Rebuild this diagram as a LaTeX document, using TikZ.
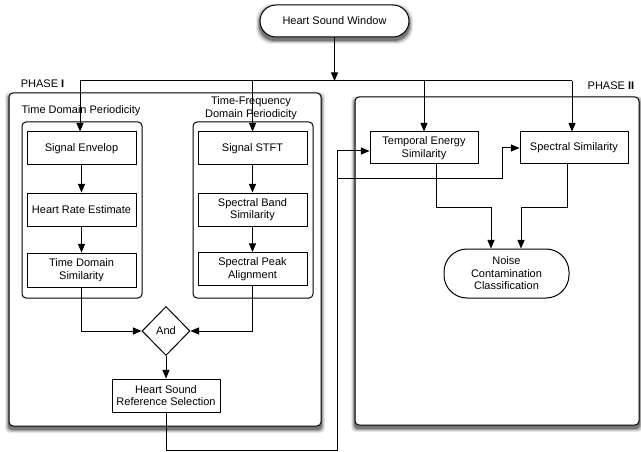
\documentclass[tikz,border=0pt]{standalone}
\usepackage{fontspec}
\setmainfont{Liberation Sans}
\usetikzlibrary{arrows, shapes}

% soft shadow below a rounded box: corners (#1,#2), (#3,#4), radius #5
\newcommand{\softshadow}[5]{%
  \foreach \s/\o in {4/0.08, 3/0.12, 2/0.18, 1/0.3}
    \fill [black, opacity=\o, rounded corners=#5]
      (#1-\s, #2+3-\s) rectangle (#3+\s, #4+3+\s);}

\begin{document}
\begin{tikzpicture}[x=1pt, y=-1pt, line width=1pt,
  stepbox/.style={draw, rectangle, fill=white, align=center, inner sep=1pt,
    minimum width=109pt, minimum height=33pt},
  pill/.style={draw, rectangle, rounded corners=16pt, fill=white, align=center},
  phasebox/.style={draw, rounded corners=4pt, fill=white},
  groupbox/.style={draw, rounded corners=4pt},
  every node/.append style={font=\fontsize{11}{12.5}\selectfont}]
  \useasboundingbox (0, 0) rectangle (641, 452);

  % phase containers
  \softshadow{9}{93}{321}{426}{4pt}
  \softshadow{355}{97}{639}{425}{4pt}
  \draw [phasebox] (9, 93) rectangle (321, 426);
  \draw [phasebox] (355, 97) rectangle (639, 425);
  \node [anchor=base west] (phaseI) at (17, 88) {PHASE \textbf{I}};
  \node [anchor=base east] (phaseII) at (638, 90) {PHASE \textbf{II}};

  % periodicity groups
  \draw [groupbox] (22, 122) rectangle (142, 298);
  \draw [groupbox] (193, 122) rectangle (313, 298);
  \node (tdlabel) at (81, 111) {Time Domain Periodicity};
  \node [align=center] (tflabel) at (251, 108) {Time-Frequency\\Domain Periodicity};

  % nodes
  \softshadow{260}{5}{409}{37}{16pt}
  \node [pill, minimum width=149pt, minimum height=32pt] (window) at (334.5, 21) {Heart Sound Window};
  \node [stepbox] (envelop) at (81.5, 148.5) {Signal Envelop};
  \node [stepbox] (rate) at (81.5, 209.5) {Heart Rate Estimate};
  \node [stepbox, minimum height=34pt] (tdsim) at (81.5, 270) {Time Domain\\Similarity};
  \node [stepbox] (stft) at (252.5, 148.5) {Signal STFT};
  \node [stepbox] (band) at (252.5, 209.5) {Spectral Band\\Similarity};
  \node [stepbox] (peak) at (252.5, 269) {Spectral Peak\\Alignment};
  \node [draw, diamond, fill=white, minimum width=48pt, minimum height=49pt, inner sep=0pt] (and) at (166, 331) {And};
  \node [stepbox, minimum width=108pt] (reference) at (166, 395.5) {Heart Sound\\Reference Selection};
  \node [stepbox, minimum width=108pt, minimum height=32pt] (energy) at (424, 148) {Temporal Energy\\Similarity};
  \node [stepbox, minimum width=108pt, minimum height=32pt] (spectral) at (574, 148) {Spectral Similarity};
  \node [pill, rounded corners=23pt, minimum width=125pt, minimum height=49pt] (noise) at (506.5, 273.5) {Noise\\Contamination\\Classification};

  % input bus
  \coordinate (split) at (334.5, 81);
  \coordinate (busL) at (80, 81);
  \coordinate (busR) at (572, 81);
  \draw [-triangle 45] (window) -- (split);
  \draw (busL) -- (busR);
  \draw [-triangle 45] (busL) -- (busL |- envelop.north);
  \draw [-triangle 45] (stft.north |- split) -- (stft.north);
  \draw [-triangle 45] (energy.north |- split) -- (energy.north);
  \draw [-triangle 45] (busR) -- (busR |- spectral.north);

  % phase I chain
  \draw [-triangle 45] (envelop) -- (rate);
  \draw [-triangle 45] (rate) -- (tdsim);
  \draw [-triangle 45] (stft) -- (band);
  \draw [-triangle 45] (band) -- (peak);
  \draw [-triangle 45] (tdsim.south) |- (and.west);
  \draw [-triangle 45] (peak.south) |- (and.east);
  \draw [-triangle 45] (and) -- (reference);

  % reference to phase II
  \coordinate (bottom) at (337, 450);
  \coordinate (tap) at (337, 179);
  \coordinate (rise) at (502, 179);
  \draw [-triangle 45] (reference.south) |- (bottom) |- ([yshift=-3pt]energy.west);
  \draw [-triangle 45] (tap) -- (rise) |- (spectral.west);

  % phase II merge
  \coordinate (mergeL) at (491, 207);
  \coordinate (mergeR) at (521, 207);
  \draw [-triangle 45] ([xshift=12pt]energy.south) |- (mergeL) -- (mergeL |- noise.north);
  \draw [-triangle 45] ([xshift=-7pt]spectral.south) |- (mergeR) -- (mergeR |- noise.north);
\end{tikzpicture}
\end{document}
